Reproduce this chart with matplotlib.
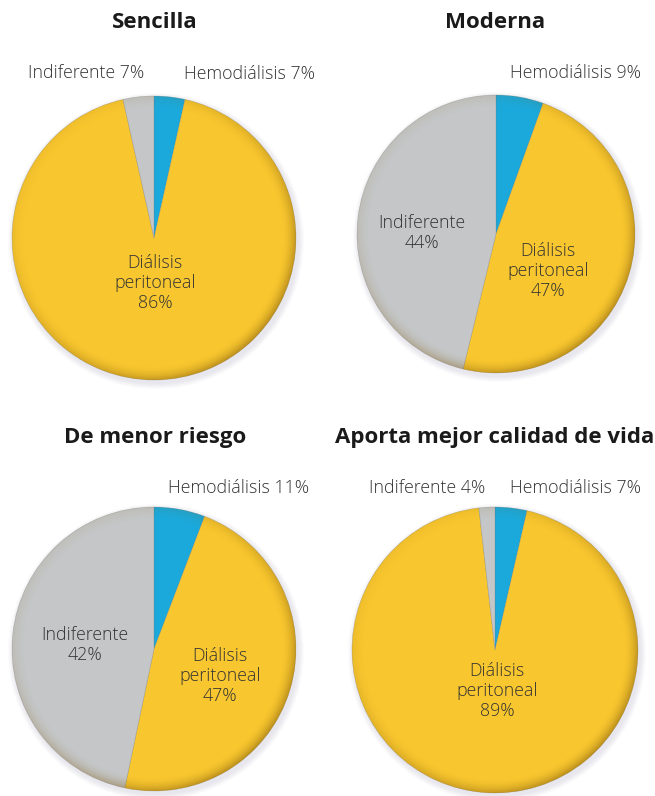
import numpy as np
import matplotlib
matplotlib.use("Agg")
import matplotlib.pyplot as plt
from matplotlib.patches import Circle

W, H = 655, 796

titles = ["Sencilla", "Moderna", "De menor riesgo", "Aporta mejor calidad de vida"]
# slice order, clockwise from 12 o'clock
slices = ["Hemodiálisis", "Diálisis peritoneal", "Indiferente"]
colors = ["#1ba9db", "#f8c62e", "#c4c6c7"]

# percentages printed on the chart
hemo_pct = [7, 9, 11, 7]
dp_pct = [86, 47, 47, 89]
indif_pct = [7, 44, 42, 4]

# wedge sizes as actually drawn in the picture (they do not follow the printed numbers)
hemo_drawn = [3.5, 5.5, 5.8, 3.6]
dp_drawn = [93.0, 48.3, 47.5, 94.6]
indif_drawn = [3.5, 46.2, 46.7, 1.8]

# pie layout in pixels (x, y from top, radius)
pie_pos = [(154, 238, 142), (496, 234, 139), (154, 649, 142), (495, 650, 143)]
title_pos = [(155, 22), (495, 22), (155, 438), (495, 438)]
hemo_lbl = [(249, 74), (575, 73), (239, 488), (576, 488)]
indif_lbl = [(86, 73), (422, 233), (85, 645), (427, 488)]
dp_lbl = [(155, 283), (548, 271), (220, 676), (497, 691)]

fig = plt.figure(figsize=(W / 100, H / 100), dpi=100)
ax = fig.add_axes([0, 0, 1, 1])

txt = dict(family="Open Sans", fontweight="light", fontsize=12.8, color="#333333",
           ha="center", va="center", linespacing=1.13)

for i in range(4):
    cx, py, r = pie_pos[i]
    cy = H - py
    # soft drop shadow
    for k in range(6):
        ax.add_patch(Circle((cx + 2, cy - 3), r + 1 + k, color="#8a8aa0",
                            alpha=0.03, lw=0, zorder=1))
    wedges, _ = ax.pie([hemo_drawn[i], dp_drawn[i], indif_drawn[i]], colors=colors,
                       center=(cx, cy), radius=r, startangle=90, counterclock=False,
                       frame=True, wedgeprops=dict(linewidth=0.4, edgecolor=(0.45, 0.45, 0.45, 0.4)))
    for w in wedges:
        w.set_zorder(2)
    # darker rim towards the lower right
    n = 300
    xs = np.linspace(-1, 1, n)
    X, Y = np.meshgrid(xs, xs)
    d = np.hypot(X, Y)
    ang = np.arctan2(Y, X)
    rim = np.clip((d - 0.9) / 0.1, 0, 1) ** 2
    side = 0.15 + 0.85 * (0.5 + 0.5 * np.cos(ang + np.pi / 4)) ** 1.5
    img = np.zeros((n, n, 4))
    img[..., 0] = 0.5
    img[..., 1] = 0.35
    img[..., 2] = 0.05
    img[..., 3] = rim * side * 0.5
    im = ax.imshow(img, extent=[cx - r, cx + r, cy - r, cy + r], origin="lower",
                   zorder=3, interpolation="bilinear")
    im.set_clip_path(Circle((cx, cy), r, transform=ax.transData))

    tx, ty = title_pos[i]
    ax.text(tx, H - ty, titles[i], family="Open Sans", fontweight="bold",
            fontsize=16, color="#1a1a1a", ha="center", va="center", zorder=5)

    hx, hy = hemo_lbl[i]
    ax.text(hx, H - hy, f"{slices[0]} {hemo_pct[i]}%", zorder=5, **txt)
    ix, iy = indif_lbl[i]
    if indif_pct[i] < 10:
        ax.text(ix, H - iy, f"{slices[2]} {indif_pct[i]}%", zorder=5, **txt)
    else:
        ax.text(ix, H - iy, f"{slices[2]}\n{indif_pct[i]}%", zorder=5, **txt)
    dx, dy = dp_lbl[i]
    ax.text(dx, H - dy, "Diálisis\nperitoneal\n" + f"{dp_pct[i]}%", zorder=5, **txt)

ax.set_xlim(0, W)
ax.set_ylim(0, H)
ax.set_aspect("auto")
ax.axis("off")

fig.savefig("out.png", dpi=100, facecolor="white")
